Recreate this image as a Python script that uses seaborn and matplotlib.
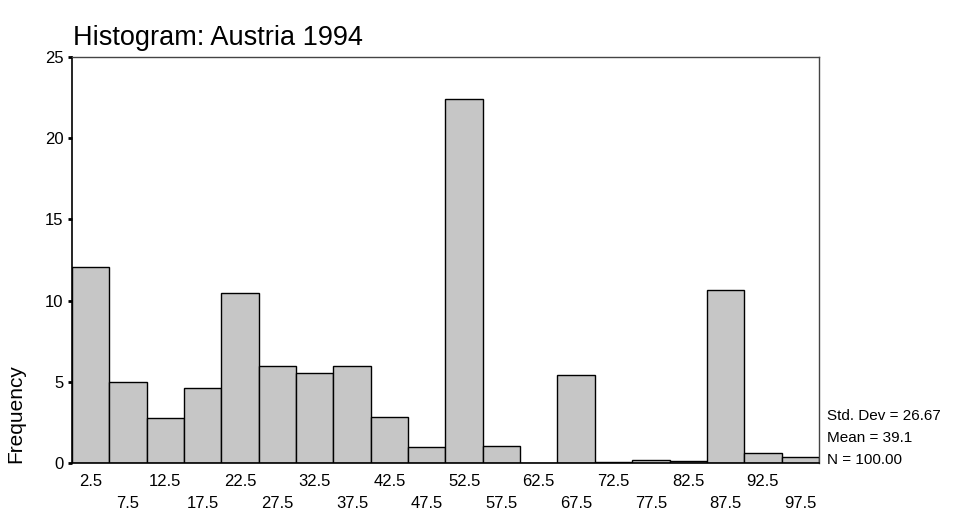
#!/usr/bin/env python3
"""Histogram: Austria 1994 (weighted frequencies, 5-unit bins)."""

import matplotlib
matplotlib.use("Agg")
import matplotlib.pyplot as plt
import seaborn as sns
import pandas as pd

# Bin centres and the (weighted) frequency
bin_centers = [2.5, 7.5, 12.5, 17.5, 22.5, 27.5, 32.5, 37.5, 42.5, 47.5,
               52.5, 57.5, 62.5, 67.5, 72.5, 77.5, 82.5, 87.5, 92.5, 97.5]
frequencies = [12.1, 5.0, 2.75, 4.6, 10.5, 5.95, 5.55, 5.95, 2.85, 1.0,
               22.4, 1.05, 0.0, 5.4, 0.07, 0.2, 0.15, 10.65, 0.65, 0.4]
tick_labels = ["2.5", "7.5", "12.5", "17.5", "22.5", "27.5", "32.5", "37.5",
               "42.5", "47.5", "52.5", "57.5", "62.5", "67.5", "72.5", "77.5",
               "82.5", "87.5", "92.5", "97.5"]
stats_lines = ["Std. Dev = 26.67", "Mean = 39.1", "N = 100.00"]
title = "Histogram: Austria 1994"

sns.set_style("ticks")
plt.rcParams['font.family'] = ['Liberation Sans', 'DejaVu Sans']
plt.rcParams['text.color'] = 'black'
plt.rcParams['axes.labelcolor'] = 'black'
plt.rcParams['xtick.color'] = 'black'
plt.rcParams['ytick.color'] = 'black'

df = pd.DataFrame({'value': bin_centers, 'freq': frequencies})

fig = plt.figure(figsize=(9.6, 5.18), dpi=100)
ax = fig.add_axes([0.075, 0.106, 0.778, 0.784])

sns.histplot(data=df, x='value', weights='freq', binwidth=5, binrange=(0, 100),
             color='#c6c6c6', edgecolor='black', linewidth=1.0, alpha=1.0, ax=ax)

ax.set_xlim(0, 100)
ax.set_ylim(0, 25)
ax.set_yticks([0, 5, 10, 15, 20, 25])
ax.tick_params(axis='y', labelsize=12, length=3, width=2, pad=3)

# staggered x labels, two rows
ax.set_xticks(bin_centers)
ax.set_xticklabels([lab if i % 2 == 0 else "\n" + lab for i, lab in enumerate(tick_labels)],
                   linespacing=1.55)
ax.tick_params(axis='x', labelsize=12, length=0, pad=8)
ax.set_xlabel('')

ax.set_ylabel('Frequency', fontsize=15, loc='bottom')
ax.yaxis.set_label_coords(-0.063, 0)

for side in ['left', 'bottom']:
    ax.spines[side].set_color('black')
    ax.spines[side].set_linewidth(1.2)
for side in ['top', 'right']:
    ax.spines[side].set_visible(True)
    ax.spines[side].set_color('#444444')
    ax.spines[side].set_linewidth(1.0)

fig.text(0.076, 1 - 45 / 518, title, fontsize=19.5, ha='left', va='baseline')

for i, line in enumerate(stats_lines):
    fig.text(827 / 960, 1 - (416 + 22 * i) / 518, line, fontsize=11,
             ha='left', va='center')

fig.savefig('out.png', dpi=100)
